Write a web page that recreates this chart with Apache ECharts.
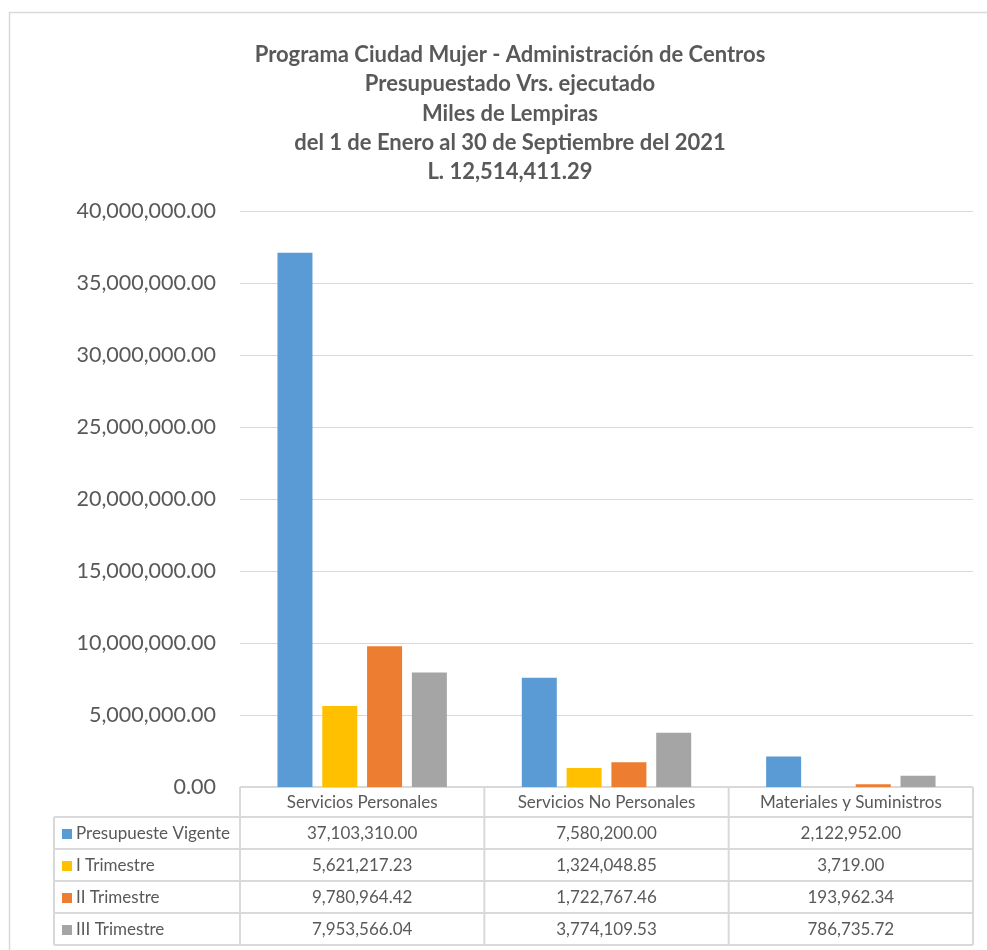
<!DOCTYPE html>
<html><head><meta charset="utf-8">
<script src="https://cdn.jsdelivr.net/npm/echarts@6/dist/echarts.min.js"></script>
<style>html,body{margin:0;padding:0;background:#fff}#c{width:987px;height:950px}</style>
</head><body><div id="c"></div>
<script>
const titleLines = ['Programa Ciudad Mujer - Administración de Centros','Presupuestado Vrs. ejecutado','Miles de Lempiras','del 1 de Enero al 30 de Septiembre del 2021','L. 12,514,411.29'];
const categories = ['Servicios Personales','Servicios No Personales','Materiales y Suministros'];
const seriesNames = ['Presupueste Vigente','I Trimestre','II Trimestre','III Trimestre'];
const presupuesto = [37103310.00, 7580200.00, 2122952.00];
const trim1 = [5621217.23, 1324048.85, 3719.00];
const trim2 = [9780964.42, 1722767.46, 193962.34];
const trim3 = [7953566.04, 3774109.53, 786735.72];
const colors = ['#5B9BD5','#FFC000','#ED7D31','#A5A5A5'];
const yTicks = {min:0, max:40000000, interval:5000000};

const seriesData = [presupuesto, trim1, trim2, trim3];
const FONT = 'Lato, "Open Sans", sans-serif';
const gL = 240, gR = 973, gT = 211, gB = 787;
const rowH = 32, headH = 30, tableLeft = 54;
const fmt = v => v.toLocaleString('en-US',{minimumFractionDigits:2, maximumFractionDigits:2});

const chart = echarts.init(document.getElementById('c'));
const graphics = [];
// outer border
graphics.push({type:'rect', shape:{x:9.5,y:12.5,width:990,height:960}, style:{fill:'none', stroke:'#d9d9d9', lineWidth:1.5}, silent:true});
// title
titleLines.forEach((t,i)=>{
  graphics.push({type:'text', x:510, y:55+i*29.3, style:{text:t, font:'bold 22px '+FONT, fill:'#595959', align:'center', verticalAlign:'middle'}});
});
const colW = (gR-gL)/categories.length;
const lineStyle = {stroke:'#d9d9d9', lineWidth:2};
const tableBottom = gB + headH + rowH*seriesNames.length;
graphics.push({type:'line', shape:{x1:gL,y1:gB,x2:gR,y2:gB}, style:lineStyle});
for (let r=0; r<=seriesNames.length; r++){
  const y = gB+headH+r*rowH;
  graphics.push({type:'line', shape:{x1:tableLeft,y1:y,x2:gR,y2:y}, style:lineStyle});
}
for (let c=0;c<=categories.length;c++){
  const x = gL + c*colW;
  graphics.push({type:'line', shape:{x1:x,y1:gB,x2:x,y2:tableBottom}, style:lineStyle});
}
graphics.push({type:'line', shape:{x1:tableLeft,y1:gB+headH,x2:tableLeft,y2:tableBottom}, style:lineStyle});
categories.forEach((c,i)=>{
  graphics.push({type:'text', x:gL+colW*(i+0.5), y:gB+headH/2+1, style:{text:c, font:'17px '+FONT, fill:'#595959', align:'center', verticalAlign:'middle'}});
});
seriesNames.forEach((n,r)=>{
  const yc = gB+headH+r*rowH+rowH/2+1;
  graphics.push({type:'rect', shape:{x:62,y:yc-5,width:10,height:10}, style:{fill:colors[r]}});
  graphics.push({type:'text', x:76, y:yc, style:{text:n, font:'17px '+FONT, fill:'#595959', align:'left', verticalAlign:'middle'}});
  seriesData[r].forEach((v,i)=>{
    graphics.push({type:'text', x:gL+colW*(i+0.5), y:yc, style:{text:fmt(v), font:'17px '+FONT, fill:'#595959', align:'center', verticalAlign:'middle'}});
  });
});

chart.setOption({
  animation:false,
  grid:{left:gL, right:987-gR, top:gT, bottom:950-gB},
  xAxis:{type:'category', data:categories, axisLine:{show:false}, axisTick:{show:false}, axisLabel:{show:false}},
  yAxis:{type:'value', min:yTicks.min, max:yTicks.max, interval:yTicks.interval,
    axisLine:{show:false}, axisTick:{show:false},
    axisLabel:{margin:24, fontSize:21.5, color:'#595959', fontFamily:FONT, formatter:v=>fmt(v)},
    splitLine:{lineStyle:{color:'#d9d9d9', width:1}}},
  series: seriesNames.map((n,i)=>({type:'bar', name:n, data:seriesData[i], barWidth:35, barGap:'28%', itemStyle:{color:colors[i]}})),
  graphic: graphics
});
</script></body></html>
